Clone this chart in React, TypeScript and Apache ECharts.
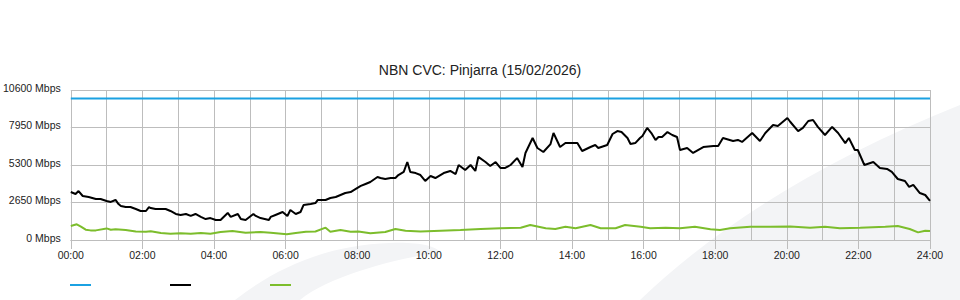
import React, { useEffect, useRef } from "react";
import * as echarts from "echarts";

const TITLE = "NBN CVC: Pinjarra (15/02/2026)";
const X_TICK_MINUTES = [0, 120, 240, 360, 480, 600, 720, 840, 960, 1080, 1200, 1320, 1440];
const Y_TICKS = [0, 2650, 5300, 7950, 10600];

const capacityMinutes = [0, 1440];
const capacityMbps = [10000, 10000];

const downMinutes = [0, 8, 13, 20, 30, 42, 50, 60, 67, 75, 80, 84, 92, 100, 109, 117, 126, 131, 134, 142, 151, 159, 167, 176, 184, 193, 201, 209, 218, 226, 234, 243, 251, 263, 268, 280, 285, 293, 306, 310, 318, 332, 335, 343, 355, 363, 368, 377, 385, 390, 402, 410, 414, 427, 435, 444, 452, 460, 469, 477, 486, 494, 502, 514, 519, 527, 536, 544, 549, 558, 564, 569, 578, 586, 594, 603, 611, 625, 636, 645, 650, 661, 670, 678, 683, 695, 703, 712, 720, 728, 737, 748, 757, 762, 774, 782, 792, 804, 809, 820, 829, 849, 857, 871, 879, 884, 899, 908, 916, 923, 933, 938, 946, 954, 958, 966, 973, 980, 985, 991, 1000, 1008, 1016, 1021, 1033, 1043, 1060, 1077, 1085, 1093, 1110, 1118, 1125, 1142, 1155, 1164, 1177, 1185, 1201, 1206, 1219, 1227, 1236, 1244, 1252, 1264, 1276, 1286, 1298, 1304, 1314, 1319, 1330, 1340, 1345, 1356, 1368, 1376, 1386, 1398, 1405, 1412, 1423, 1432, 1440];
const downMbps = [3390, 3250, 3460, 3110, 3040, 2900, 2900, 2760, 2690, 2830, 2540, 2400, 2330, 2330, 2190, 2050, 2050, 2330, 2260, 2190, 2190, 2190, 2050, 1840, 1770, 1840, 1700, 1840, 1630, 1480, 1550, 1410, 1410, 1910, 1630, 1840, 1480, 1410, 1840, 1700, 1550, 1410, 1630, 1770, 1980, 1700, 2120, 1840, 1980, 2470, 2540, 2610, 2830, 2830, 2970, 3040, 3180, 3320, 3390, 3600, 3820, 3960, 4100, 4450, 4380, 4310, 4380, 4380, 4590, 4810, 5510, 4810, 4730, 4590, 4170, 4520, 4380, 4730, 4880, 4660, 5300, 4950, 5300, 4880, 5870, 5510, 5230, 5510, 5090, 5090, 5300, 5790, 5160, 6150, 7210, 6500, 6220, 6780, 7560, 6570, 6850, 6850, 6290, 6570, 6710, 6500, 6710, 7490, 7700, 7630, 7210, 6780, 6850, 7210, 7350, 7920, 7560, 7070, 7280, 7280, 7630, 7420, 7280, 6360, 6500, 6150, 6570, 6640, 6640, 7210, 7000, 7070, 6930, 7560, 7000, 7560, 8130, 8060, 8620, 8340, 7700, 7920, 8410, 8480, 7990, 7420, 7990, 7560, 6850, 7210, 6360, 6360, 5300, 5440, 5510, 5090, 5020, 4810, 4310, 4170, 3750, 3890, 3320, 3180, 2760];

const upMinutes = [0, 10, 17, 25, 33, 42, 60, 67, 75, 92, 109, 126, 134, 151, 167, 184, 201, 218, 234, 251, 271, 293, 318, 335, 362, 377, 394, 410, 427, 435, 452, 469, 482, 502, 527, 544, 561, 586, 620, 653, 687, 720, 754, 770, 796, 812, 829, 846, 871, 888, 913, 929, 955, 971, 997, 1021, 1046, 1072, 1088, 1105, 1139, 1172, 1206, 1239, 1264, 1289, 1323, 1365, 1386, 1406, 1420, 1432, 1440];
const upMbps = [990, 1110, 950, 730, 680, 680, 820, 720, 760, 700, 600, 590, 620, 500, 450, 480, 440, 500, 440, 560, 640, 520, 570, 520, 410, 500, 590, 600, 870, 590, 700, 590, 600, 470, 560, 780, 650, 600, 650, 700, 780, 830, 870, 1060, 830, 780, 940, 830, 1060, 830, 830, 1060, 940, 830, 870, 830, 940, 760, 710, 830, 940, 940, 960, 870, 940, 830, 870, 940, 990, 780, 540, 650, 630];

const SERIES_NAMES = ["Capacity", "Download", "Upload"];

const pairs = (xs: number[], ys: number[]) => xs.map((x, i) => [x, ys[i]]);
const hhmm = (m: number) => {
  const h = Math.floor(m / 60);
  const mm = m % 60;
  return `${String(h).padStart(2, "0")}:${String(mm).padStart(2, "0")}`;
};

export default function App() {
  const ref = useRef<HTMLDivElement>(null);
  useEffect(() => {
    document.body.style.margin = "0";
    if (!ref.current) return;
    const chart = echarts.init(ref.current, undefined, { renderer: "svg" });
    echarts.graphic.registerShape(
      "swooshRight",
      echarts.graphic.extendPath("M640,300 Q760,185 960,105 L960,300 Z", {})
    );
    echarts.graphic.registerShape(
      "swooshLeft",
      echarts.graphic.extendPath("M235,300 C280,265 330,245 390,243 C420,242 435,246 440,252 C400,258 330,275 300,300 Z", {})
    );
    const grey = "#bdbdbd";
    const font = "'Liberation Sans', Arial, sans-serif";
    chart.setOption({
      animation: false,
      backgroundColor: "#ffffff",
      title: {
        text: TITLE,
        left: "center",
        top: 58,
        textStyle: { fontSize: 14, fontWeight: "normal", color: "#222", fontFamily: font },
      },
      graphic: [
        { type: "swooshRight", x: 0, y: 0, z: -10, silent: true, style: { fill: "#f3f4f6" } },
        { type: "swooshLeft", x: 0, y: 0, z: -10, silent: true, style: { fill: "#f3f4f6" } },
      ],
      legend: {
        data: SERIES_NAMES,
        left: 70,
        top: 284,
        padding: 0,
        icon: "rect",
        itemWidth: 21,
        itemHeight: 2,
        itemGap: 79,
        formatter: () => "",
        textStyle: { fontSize: 10 },
      },
      grid: { left: 70, right: 30, top: 90, bottom: 60, containLabel: false },
      xAxis: {
        type: "value",
        min: 0,
        max: 1440,
        interval: 120,
        axisLine: { show: true, lineStyle: { color: grey } },
        axisTick: { show: true, length: 9, lineStyle: { color: grey } },
        minorTick: { show: false, splitNumber: 2 },
        splitLine: { show: true, lineStyle: { color: grey, width: 1 } },
        minorSplitLine: { show: true, lineStyle: { color: grey, width: 1 } },
        axisLabel: {
          margin: 9,
          fontSize: 10.5,
          color: "#222",
          fontFamily: font,
          formatter: (v: number) => (X_TICK_MINUTES.includes(v) ? hhmm(v) : ""),
        },
      },
      yAxis: {
        type: "value",
        min: Y_TICKS[0],
        max: Y_TICKS[Y_TICKS.length - 1],
        interval: 2650,
        axisLine: { show: false },
        axisTick: { show: false },
        splitLine: { show: true, lineStyle: { color: grey, width: 1 } },
        axisLabel: {
          margin: 10,
          fontSize: 10.5,
          color: "#222",
          fontFamily: font,
          verticalAlign: "bottom",
          lineHeight: 5,
          formatter: (v: number) => `${v} Mbps`,
        },
      },
      series: [
        {
          name: SERIES_NAMES[0],
          type: "line",
          data: pairs(capacityMinutes, capacityMbps),
          showSymbol: false,
          lineStyle: { color: "#1ba1e2", width: 2 },
          itemStyle: { color: "#1ba1e2" },
        },
        {
          name: SERIES_NAMES[1],
          type: "line",
          data: pairs(downMinutes, downMbps),
          showSymbol: false,
          lineStyle: { color: "#000000", width: 2 },
          itemStyle: { color: "#000000" },
        },
        {
          name: SERIES_NAMES[2],
          type: "line",
          data: pairs(upMinutes, upMbps),
          showSymbol: false,
          lineStyle: { color: "#7cbd2c", width: 2 },
          itemStyle: { color: "#7cbd2c" },
        },
      ],
    });
    return () => chart.dispose();
  }, []);
  return <div ref={ref} style={{ width: 960, height: 300 }} />;
}
